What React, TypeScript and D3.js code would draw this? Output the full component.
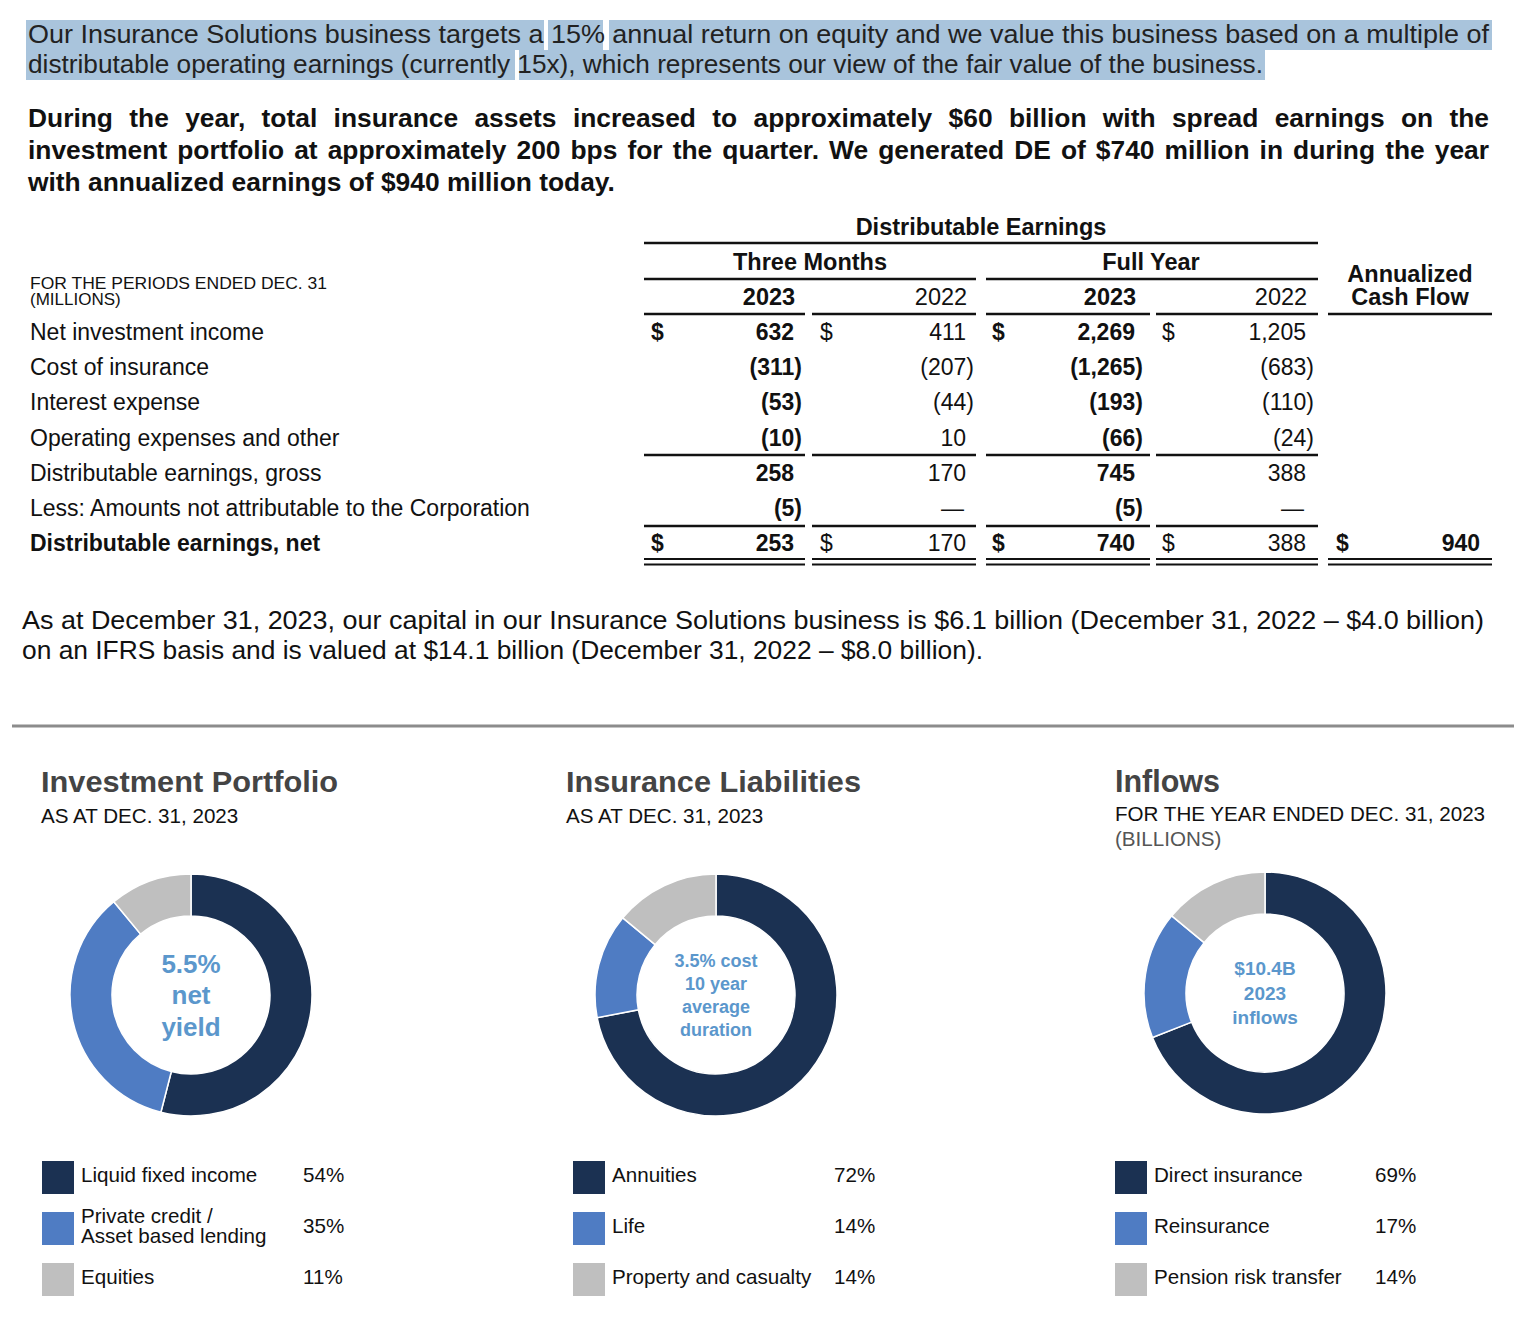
import React from "react";
import * as d3 from "d3";

// ---------- DATA ----------
const introLines = [
  "Our Insurance Solutions business targets a 15% annual return on equity and we value this business based on a multiple of",
  "distributable operating earnings (currently 15x), which represents our view of the fair value of the business.",
];
const boldLines = [
  "During the year, total insurance assets increased to approximately $60 billion with spread earnings on the",
  "investment portfolio at approximately 200 bps for the quarter. We generated DE of $740 million in during the year",
  "with annualized earnings of $940 million today.",
];
const capitalLines = [
  "As at December 31, 2023, our capital in our Insurance Solutions business is $6.1 billion (December 31, 2022 – $4.0 billion)",
  "on an IFRS basis and is valued at $14.1 billion (December 31, 2022 – $8.0 billion).",
];

const rowLabels = [
  "Net investment income",
  "Cost of insurance",
  "Interest expense",
  "Operating expenses and other",
  "Distributable earnings, gross",
  "Less: Amounts not attributable to the Corporation",
  "Distributable earnings, net",
];
const q2023: (number | null)[] = [632, -311, -53, -10, 258, -5, 253];
const q2022: (number | null)[] = [411, -207, -44, 10, 170, null, 170];
const fy2023: (number | null)[] = [2269, -1265, -193, -66, 745, -5, 740];
const fy2022: (number | null)[] = [1205, -683, -110, -24, 388, null, 388];
const annualized: (number | null)[] = [null, null, null, null, null, null, 940];

const portfolioLabels = ["Liquid fixed income", "Private credit /\nAsset based lending", "Equities"];
const portfolioValues = [54, 35, 11];
const liabilityLabels = ["Annuities", "Life", "Property and casualty"];
const liabilityValues = [72, 14, 14];
const inflowLabels = ["Direct insurance", "Reinsurance", "Pension risk transfer"];
const inflowValues = [69, 17, 14];

// ---------- STYLE ----------
const FONT = "'Liberation Sans', Arial, Helvetica, sans-serif";
const NAVY = "#1b3152";
const BLUE = "#4f7cc3";
const GRAY = "#bfbfbf";
const CENTER_BLUE = "#5b97cc";
const HILITE = "#a9c4dc";
const segColors = [NAVY, BLUE, GRAY];
const TXT = 23;
const HDR = 23.5;

const fmt = d3.format(",");
function cell(v: number | null): string {
  if (v === null) return "—";
  return v < 0 ? `(${fmt(-v)})` : fmt(v);
}

let ctx: CanvasRenderingContext2D | null = null;
function measure(text: string, size: number, weight: string): number {
  if (!ctx) {
    const c = document.createElement("canvas");
    ctx = c.getContext("2d");
  }
  if (!ctx) return text.length * size * 0.5;
  ctx.font = `${weight} ${size}px 'Liberation Sans', Arial, sans-serif`;
  return ctx.measureText(text).width;
}

function Justified({ x, y, width, text, size, weight, fill }: { x: number; y: number; width: number; text: string; size: number; weight: string; fill: string }) {
  const words = text.split(" ");
  const widths = words.map((w) => measure(w, size, weight));
  const total = d3.sum(widths);
  const gap = (width - total) / (words.length - 1);
  if (gap < size * 0.15) {
    return (
      <text x={x} y={y} fontFamily={FONT} fontWeight={weight} fontSize={size} fill={fill} textLength={width} lengthAdjust="spacingAndGlyphs">
        {text}
      </text>
    );
  }
  let cx = x;
  return (
    <g>
      {words.map((w, i) => {
        const px = cx;
        cx += widths[i] + gap;
        return (
          <text key={i} x={px} y={y} fontFamily={FONT} fontWeight={weight} fontSize={size} fill={fill}>
            {w}
          </text>
        );
      })}
    </g>
  );
}

type Col = { values: (number | null)[]; dollarX: number; right: number; bold: boolean; segL: number; segR: number };
const cols: Col[] = [
  { values: q2023, dollarX: 651, right: 794, bold: true, segL: 644, segR: 805 },
  { values: q2022, dollarX: 820, right: 966, bold: false, segL: 812, segR: 976 },
  { values: fy2023, dollarX: 992, right: 1135, bold: true, segL: 986, segR: 1150 },
  { values: fy2022, dollarX: 1162, right: 1306, bold: false, segL: 1156, segR: 1318 },
  { values: annualized, dollarX: 1336, right: 1480, bold: true, segL: 1328, segR: 1492 },
];

const rowY = d3.scaleLinear().domain([0, 6]).range([332, 543]);

function Donut({ cx, cy, values, lines, fontSize, lineGap }: { cx: number; cy: number; values: number[]; lines: string[]; fontSize: number; lineGap: number }) {
  const pie = d3.pie<number>().sort(null).value((d) => d);
  const arc = d3.arc<d3.PieArcDatum<number>>().innerRadius(79).outerRadius(121);
  const arcs = pie(values);
  const startY = -((lines.length - 1) * lineGap) / 2;
  return (
    <g transform={`translate(${cx},${cy})`}>
      {arcs.map((a, i) => (
        <path key={i} d={arc(a) || ""} fill={segColors[i]} stroke="#fff" strokeWidth={1.5} />
      ))}
      {lines.map((l, i) => (
        <text key={i} x={0} y={startY + i * lineGap} dy="0.35em" textAnchor="middle" fontFamily={FONT} fontWeight="bold" fontSize={fontSize} fill={CENTER_BLUE}>
          {l}
        </text>
      ))}
    </g>
  );
}

function Legend({ x, pctX, labels, values }: { x: number; pctX: number; labels: string[]; values: number[] }) {
  const ys = [1177, 1228, 1279];
  return (
    <g>
      {labels.map((l, i) => {
        const parts = l.split("\n");
        return (
          <g key={i}>
            <rect x={x} y={ys[i] - 16} width={32} height={33} fill={segColors[i]} />
            {parts.map((p, j) => (
              <text key={j} x={x + 39} y={ys[i] - 2 + (j - (parts.length - 1) / 2) * 20} dy="0.35em" fontFamily={FONT} fontSize={20.6} fill="#111">
                {p}
              </text>
            ))}
            <text x={pctX} y={ys[i] - 2} dy="0.35em" fontFamily={FONT} fontSize={20.6} fill="#111">
              {values[i]}%
            </text>
          </g>
        );
      })}
    </g>
  );
}

export default function App() {
  const lastW = 587;
  const boldSize = (24 * lastW) / measure(boldLines[2], 24, "bold");
  return (
    <div style={{ position: "absolute", left: 0, top: 0 }}>
      <svg width={1536} height={1320} style={{ display: "block", background: "#fff" }}>
        <rect width={1536} height={1320} fill="#fff" />
        {/* highlights */}
        <rect x={26} y={20} width={518} height={30} fill={HILITE} />
        <rect x={548} y={20} width={55} height={30} fill={HILITE} />
        <rect x={609} y={20} width={883} height={30} fill={HILITE} />
        <rect x={26} y={50} width={489} height={30} fill={HILITE} />
        <rect x={519} y={50} width={746} height={30} fill={HILITE} />
        <text x={28} y={43} fontFamily={FONT} fontSize={25} fill="#222" textLength={1461} lengthAdjust="spacingAndGlyphs">{introLines[0]}</text>
        <text x={28} y={73} fontFamily={FONT} fontSize={25} fill="#222" textLength={1235} lengthAdjust="spacingAndGlyphs">{introLines[1]}</text>

        <Justified x={28} y={127} width={1461} text={boldLines[0]} size={boldSize} weight="bold" fill="#111" />
        <Justified x={28} y={159} width={1461} text={boldLines[1]} size={boldSize} weight="bold" fill="#111" />
        <text x={28} y={191} fontFamily={FONT} fontWeight="bold" fontSize={boldSize} fill="#111">{boldLines[2]}</text>

        {/* table headers */}
        <text x={981} y={235} textAnchor="middle" fontFamily={FONT} fontWeight="bold" fontSize={HDR} fill="#111">Distributable Earnings</text>
        <line x1={644} x2={1318} y1={243} y2={243} stroke="#111" strokeWidth={2.5} />
        <text x={810} y={270} textAnchor="middle" fontFamily={FONT} fontWeight="bold" fontSize={HDR} fill="#111">Three Months</text>
        <text x={1151} y={270} textAnchor="middle" fontFamily={FONT} fontWeight="bold" fontSize={HDR} fill="#111">Full Year</text>
        <line x1={644} x2={976} y1={279} y2={279} stroke="#111" strokeWidth={2.5} />
        <line x1={986} x2={1318} y1={279} y2={279} stroke="#111" strokeWidth={2.5} />
        <text x={1410} y={282} textAnchor="middle" fontFamily={FONT} fontWeight="bold" fontSize={HDR} fill="#111">Annualized</text>
        <text x={1410} y={305} textAnchor="middle" fontFamily={FONT} fontWeight="bold" fontSize={HDR} fill="#111">Cash Flow</text>
        <text x={769} y={305} textAnchor="middle" fontFamily={FONT} fontWeight="bold" fontSize={HDR} fill="#111">2023</text>
        <text x={941} y={305} textAnchor="middle" fontFamily={FONT} fontSize={HDR} fill="#111">2022</text>
        <text x={1110} y={305} textAnchor="middle" fontFamily={FONT} fontWeight="bold" fontSize={HDR} fill="#111">2023</text>
        <text x={1281} y={305} textAnchor="middle" fontFamily={FONT} fontSize={HDR} fill="#111">2022</text>
        {cols.map((c, i) => (
          <line key={i} x1={c.segL} x2={c.segR} y1={314} y2={314} stroke="#111" strokeWidth={2.5} />
        ))}

        <text x={30} y={289} fontFamily={FONT} fontSize={17} fill="#111" textLength={297} lengthAdjust="spacingAndGlyphs">FOR THE PERIODS ENDED DEC. 31</text>
        <text x={30} y={305} fontFamily={FONT} fontSize={17} fill="#111">(MILLIONS)</text>

        {rowLabels.map((l, i) => (
          <text key={i} x={30} y={rowY(i)} dy="0.35em" fontFamily={FONT} fontSize={TXT} fontWeight={i === 6 ? "bold" : "normal"} fill="#111">{l}</text>
        ))}

        {cols.map((c, ci) => (
          <g key={ci}>
            {c.values.map((v, ri) => {
              if (v === null && ci === 4) return null;
              const s = cell(v);
              const neg = v !== null && v < 0;
              const dash = v === null;
              return (
                <g key={ri}>
                  {(ri === 0 || ri === 6) && (
                    <text x={c.dollarX} y={rowY(ri)} dy="0.35em" fontFamily={FONT} fontSize={TXT} fontWeight={c.bold ? "bold" : "normal"} fill="#111">$</text>
                  )}
                  <text x={c.right + (neg ? 8 : 0) - (dash ? 2 : 0)} y={rowY(ri)} dy="0.35em" textAnchor="end" fontFamily={FONT} fontSize={TXT} fontWeight={c.bold ? "bold" : "normal"} fill="#111">{s}</text>
                </g>
              );
            })}
            {ci < 4 && <line x1={c.segL} x2={c.segR} y1={455} y2={455} stroke="#111" strokeWidth={2.5} />}
            {ci < 4 && <line x1={c.segL} x2={c.segR} y1={526} y2={526} stroke="#111" strokeWidth={2.5} />}
            <line x1={c.segL} x2={c.segR} y1={559} y2={559} stroke="#111" strokeWidth={2} />
            <line x1={c.segL} x2={c.segR} y1={564.5} y2={564.5} stroke="#111" strokeWidth={2} />
          </g>
        ))}

        {/* capital paragraph */}
        <text x={22} y={629} fontFamily={FONT} fontSize={25} fill="#111" textLength={1462} lengthAdjust="spacingAndGlyphs">{capitalLines[0]}</text>
        <text x={22} y={659} fontFamily={FONT} fontSize={25} fill="#111" textLength={961} lengthAdjust="spacingAndGlyphs">{capitalLines[1]}</text>

        {/* separator */}
        <line x1={12} x2={1514} y1={726} y2={726} stroke="#8c8c8c" strokeWidth={3} />

        {/* panel titles */}
        <text x={41} y={792} fontFamily={FONT} fontWeight="bold" fontSize={30} fill="#444" textLength={297} lengthAdjust="spacingAndGlyphs">Investment Portfolio</text>
        <text x={41} y={823} fontFamily={FONT} fontSize={20.6} fill="#111">AS AT DEC. 31, 2023</text>
        <text x={566} y={792} fontFamily={FONT} fontWeight="bold" fontSize={30} fill="#444" textLength={295} lengthAdjust="spacingAndGlyphs">Insurance Liabilities</text>
        <text x={566} y={823} fontFamily={FONT} fontSize={20.6} fill="#111">AS AT DEC. 31, 2023</text>
        <text x={1115} y={792} fontFamily={FONT} fontWeight="bold" fontSize={30.5} fill="#444">Inflows</text>
        <text x={1115} y={821} fontFamily={FONT} fontSize={20.6} fill="#111">FOR THE YEAR ENDED DEC. 31, 2023</text>
        <text x={1115} y={846} fontFamily={FONT} fontSize={20.6} fill="#555">(BILLIONS)</text>

        <Donut cx={191} cy={995} values={portfolioValues} lines={["5.5%", "net", "yield"]} fontSize={26} lineGap={31.5} />
        <Donut cx={716} cy={995} values={liabilityValues} lines={["3.5% cost", "10 year", "average", "duration"]} fontSize={18} lineGap={23} />
        <Donut cx={1265} cy={993} values={inflowValues} lines={["$10.4B", "2023", "inflows"]} fontSize={19} lineGap={24.5} />

        <Legend x={42} pctX={303} labels={portfolioLabels} values={portfolioValues} />
        <Legend x={573} pctX={834} labels={liabilityLabels} values={liabilityValues} />
        <Legend x={1115} pctX={1375} labels={inflowLabels} values={inflowValues} />
      </svg>
    </div>
  );
}
